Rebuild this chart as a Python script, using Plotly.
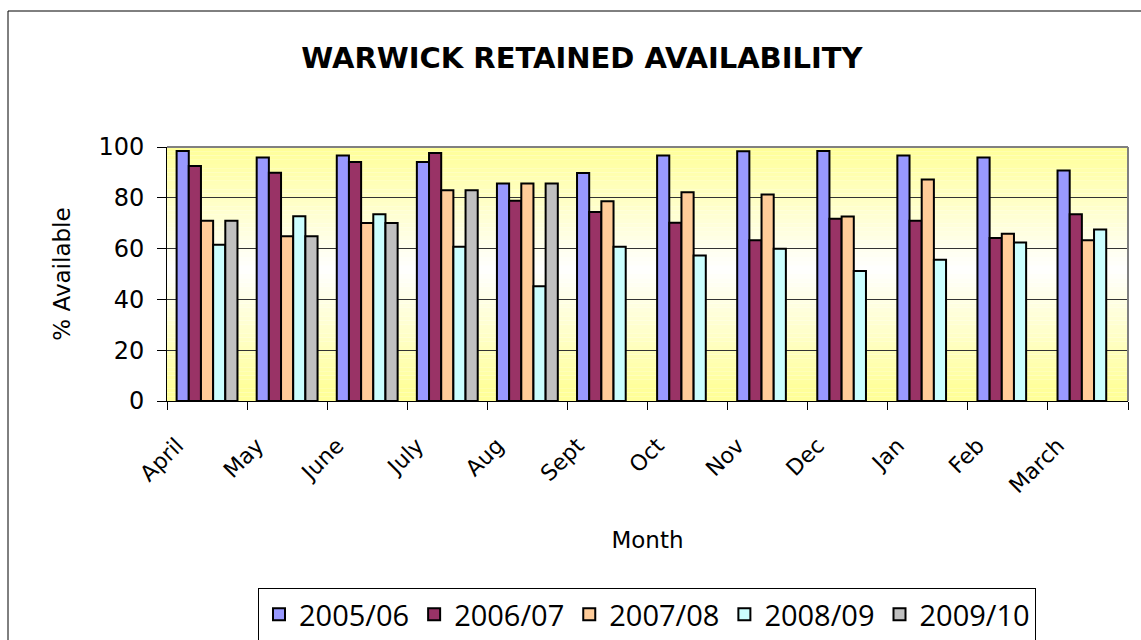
import plotly.graph_objects as go

months = ["April", "May", "June", "July", "Aug", "Sept", "Oct", "Nov", "Dec", "Jan", "Feb", "March"]
s2005 = [98.4, 95.9, 96.7, 94.1, 85.6, 89.8, 96.7, 98.3, 98.4, 96.7, 95.9, 90.7]
s2006 = [92.5, 89.9, 94.1, 97.6, 78.8, 74.4, 70.2, 63.3, 71.8, 71.0, 64.2, 73.5]
s2007 = [71.0, 64.9, 70.1, 83.0, 85.6, 78.6, 82.2, 81.3, 72.6, 87.2, 65.8, 63.3]
s2008 = [61.5, 72.7, 73.5, 60.7, 45.2, 60.7, 57.3, 59.9, 51.2, 55.6, 62.4, 67.5]
s2009 = [71.0, 64.9, 70.1, 83.0, 85.6, None, None, None, None, None, None, None]

series_names = ["2005/06", "2006/07", "2007/08", "2008/09", "2009/10"]
series_vals = [s2005, s2006, s2007, s2008, s2009]
colors = ["#9999FF", "#993366", "#FFCC99", "#CCFFFF", "#C0C0C0"]

W, H = 1141, 640
L, R, T, B = 167, 1128, 147, 401

fig = go.Figure()
for name, vals, c in zip(series_names, series_vals, colors):
    fig.add_trace(go.Bar(x=months, y=vals, name=name,
                         marker=dict(color=c, line=dict(color="black", width=2))))

def px2x(px):
    return (px - L) / (R - L)

def py2y(py):
    return (B - py) / (B - T)

shapes = []
# gradient background of plot area
n = 60
for i in range(n):
    t0 = i / n
    t1 = (i + 1) / n
    tm = (t0 + t1) / 2
    f = min(1.0, abs(tm - 0.52) * 2.1)
    bcol = int(round(255 - (255 - 153) * f))
    shapes.append(dict(type="rect", xref="paper", yref="paper", x0=0, x1=1, y0=t0, y1=t1,
                       fillcolor=f"rgb(255,255,{bcol})", line=dict(width=0), layer="below"))
# plot area border (top/right grey)
shapes.append(dict(type="line", xref="paper", yref="paper", x0=0, x1=1, y0=1, y1=1,
                   line=dict(color="#808080", width=2)))
shapes.append(dict(type="line", xref="paper", yref="paper", x0=1, x1=1, y0=0, y1=1,
                   line=dict(color="#808080", width=2)))
# outer chart border (right and bottom edges lie outside the picture)
shapes.append(dict(type="rect", xref="paper", yref="paper",
                   x0=px2x(8), x1=px2x(1160), y0=py2y(11), y1=py2y(670),
                   line=dict(color="black", width=1), fillcolor="rgba(0,0,0,0)"))

fig.update_layout(
    width=W, height=H,
    margin=dict(l=L, r=W - R, t=T, b=H - B, pad=0, autoexpand=False),
    paper_bgcolor="white",
    plot_bgcolor="rgba(0,0,0,0)",
    barmode="group", bargap=0.24, bargroupgap=0,
    shapes=shapes,
    title=dict(text="<b>WARWICK RETAINED AVAILABILITY</b>", x=0.51, xanchor="center",
               y=1 - 58 / H, yanchor="middle",
               font=dict(family="DejaVu Sans", size=29, color="black")),
    font=dict(family="DejaVu Sans", color="black"),
    xaxis=dict(
        type="category", tickangle=-45, tickson="boundaries", ticks="outside", ticklen=8,
        tickcolor="black", showline=True, linecolor="black", linewidth=1,
        tickfont=dict(family="DejaVu Sans", size=22, color="black"),
        ticklabelstandoff=22, ticklabelshift=-30,
        title=dict(text="Month", font=dict(family="DejaVu Sans", size=23, color="black"), standoff=34),
        showgrid=False, automargin=False,
    ),
    yaxis=dict(
        range=[0, 100], tickvals=[0, 20, 40, 60, 80, 100], ticks="outside", ticklen=9,
        tickcolor="black", showline=True, linecolor="black", linewidth=1,
        showgrid=True, gridcolor="#333333", gridwidth=1, zeroline=False,
        tickfont=dict(family="DejaVu Sans", size=24, color="black"),
        ticklabelstandoff=8,
        title=dict(text="% Available", font=dict(family="DejaVu Sans", size=23, color="black"), standoff=21),
        automargin=False,
    ),
    legend=dict(
        orientation="h", x=px2x(258), xanchor="left", y=py2y(588), yanchor="top",
        bordercolor="black", borderwidth=1, bgcolor="white",
        font=dict(family="Open Sans", size=29, color="black"),
        itemsizing="constant",
    ),
    showlegend=True,
)

fig.write_html("out.html", config={"displayModeBar": False},
               post_script="document.body.style.margin='0';document.body.style.overflow='hidden';")
